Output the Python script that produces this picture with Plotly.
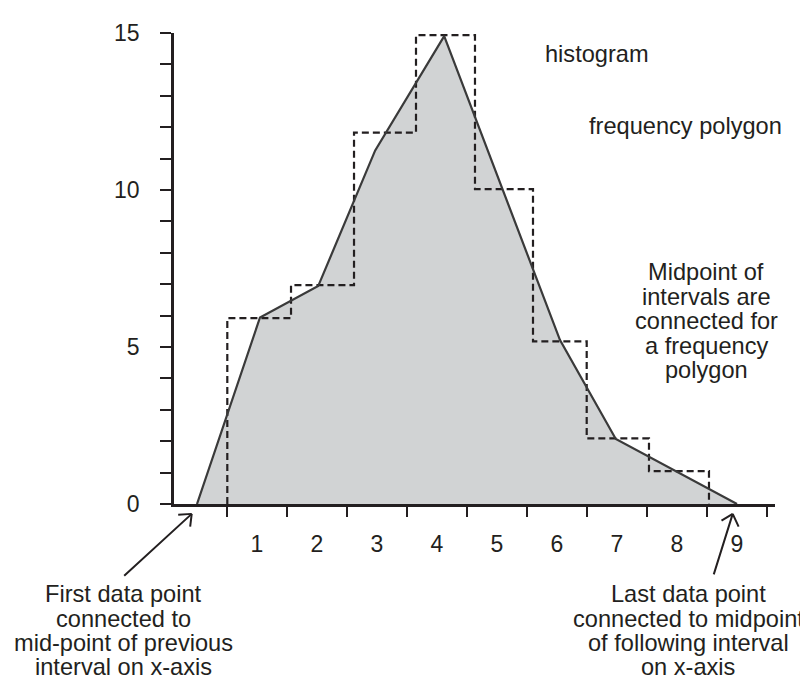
import plotly.graph_objects as go

# ---------------- data ----------------
class_mids = [1, 2, 3, 4, 5, 6, 7, 8, 9]
class_labels = ["1", "2", "3", "4", "5", "6", "7", "8", "9"]

# histogram bars as drawn: left/right edges and heights
hist_edges = [0.505, 1.567, 2.617, 3.65, 4.633, 5.6, 6.495, 7.533, 8.533]
hist_heights = [5.92, 6.97, 11.83, 14.93, 10.03, 5.18, 2.09, 1.05]

# frequency polygon vertices
poly_x = [0, 1.05, 2.02, 2.97, 4.12, 5.0, 6.05, 6.98, 8.0, 9.0]
poly_y = [0, 5.94, 6.94, 11.26, 14.9, 10.5, 5.22, 2.07, 1.02, 0]

y_tick_vals = [0, 5, 10, 15]
y_tick_labels = ["0", "5", "10", "15"]

# ---------------- styling ----------------
OFF = 8                                  # page body margin of the browser
W, H = 808 - OFF, 681 - OFF
L, R, T, B = 174, 775, 27, 504           # plot-area edges in page pixels
X_RANGE = [(L - 197) / 60, (R - 197) / 60]
Y_RANGE = [0, 15]
INK = "#231f20"
FONT = "Liberation Sans, Arial, sans-serif"
FS = 23.6
TFS = 23

def px(xp):
    return (xp - L) / (R - L)

def py(yp):
    return (B - yp) / (B - T)

# step outline of histogram
step_x = [hist_edges[0]] + hist_edges[:-1] + [hist_edges[-1]]
step_y = [0] + hist_heights + [0]

fig = go.Figure()
fig.add_trace(go.Scatter(x=poly_x, y=poly_y, mode="lines", fill="tozeroy",
                         fillcolor="#d1d3d4", line=dict(width=0),
                         hoverinfo="skip", showlegend=False))
fig.add_trace(go.Scatter(x=step_x, y=step_y, mode="lines", line_shape="hv",
                         line=dict(color=INK, width=2.2, dash="7px,4px"),
                         cliponaxis=False, showlegend=False, name="histogram"))
fig.add_trace(go.Scatter(x=poly_x, y=poly_y, mode="lines",
                         line=dict(color="#3a3a3a", width=2.2),
                         cliponaxis=False, showlegend=False, name="frequency polygon"))

annotations = []

def text_line(txt, cx, baseline):
    annotations.append(dict(text=txt, xref="paper", yref="paper",
                            x=px(cx), y=py(baseline - 0.33 * FS),
                            xanchor="center", yanchor="middle", showarrow=False,
                            font=dict(family=FONT, size=FS, color=INK)))

text_line("histogram", 596.5, 56)
text_line("frequency polygon", 685.5, 129.3)
for i, t in enumerate(["Midpoint of", "intervals are", "connected for",
                       "a frequency", "polygon"]):
    text_line(t, 706, 277.3 + 24.7 * i)
for i, t in enumerate(["First data point", "connected to",
                       "mid-point of previous", "interval on x-axis"]):
    text_line(t, 123.3, 603.3 + 24.5 * i)
for i, t in enumerate(["Last data point", "connected to midpoint",
                       "of following interval", "on x-axis"]):
    text_line(t, 688, 603.3 + 24.5 * i)

def arrow(tip, tail, arm1, arm2):
    for end in (tail, arm1, arm2):
        annotations.append(dict(text="", xref="paper", yref="paper",
                                x=px(tip[0]), y=py(tip[1]),
                                ax=end[0] - tip[0], ay=end[1] - tip[1],
                                showarrow=True, arrowhead=0, arrowwidth=2,
                                arrowcolor=INK, standoff=0, startstandoff=0))

arrow((191.7, 514), (122.7, 577.3), (176.7, 515), (190.0, 528.3))
arrow((732.7, 514), (713.3, 576), (720.0, 521.7), (739.3, 528.3))

fig.update_layout(
    width=W, height=H,
    margin=dict(l=L - OFF, r=808 - R, t=T - OFF, b=681 - B, pad=0),
    paper_bgcolor="white", plot_bgcolor="white",
    font=dict(family=FONT, size=FS, color=INK),
    annotations=annotations,
    showlegend=False,
    xaxis=dict(range=X_RANGE, showgrid=False, zeroline=False,
               showline=True, linecolor=INK, linewidth=2.5,
               tickmode="array", tickvals=class_mids, ticktext=class_labels,
               ticks="outside", ticklen=10, tickcolor="rgba(0,0,0,0)",
               ticklabelstandoff=8,
               minor=dict(tickmode="array",
                          tickvals=[m - 0.5 for m in class_mids] + [class_mids[-1] + 0.5],
                          ticks="outside", ticklen=10, tickwidth=2, tickcolor=INK),
               tickfont=dict(family=FONT, size=TFS, color=INK), fixedrange=True),
    yaxis=dict(range=Y_RANGE, showgrid=False, zeroline=False,
               showline=True, linecolor=INK, linewidth=2.5,
               tickmode="array", tickvals=y_tick_vals, ticktext=y_tick_labels,
               ticks="outside", ticklen=11, tickwidth=2, tickcolor=INK,
               ticklabelstandoff=16,
               minor=dict(tick0=0, dtick=1, ticks="outside", ticklen=11,
                          tickwidth=2, tickcolor=INK),
               tickfont=dict(family=FONT, size=TFS, color=INK), fixedrange=True),
)

fig.write_html("out.html")
